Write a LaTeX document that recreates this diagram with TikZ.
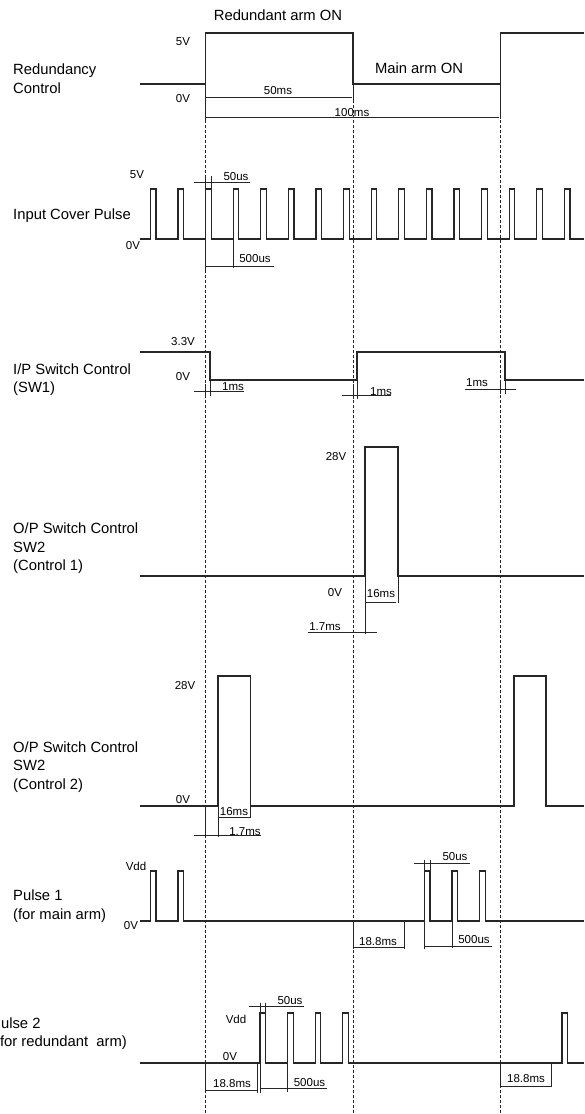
\documentclass[tikz,border=0pt]{standalone}
\usepackage{fontspec}
\setmainfont{Liberation Sans}
\usetikzlibrary{arrows.meta}

\begin{document}
\begin{tikzpicture}[x=1pt, y=-1pt,
    wave/.style={line width=1.2pt, black!85},
    dim/.style={line width=0.8pt, black!85},
    marker/.style={line width=0.8pt, dash pattern=on 2.5pt off 2.5pt, black!85},
    sig/.style={font=\fontsize{14.8}{18.5}\selectfont, align=left, anchor=west, inner sep=0pt},
    val/.style={font=\fontsize{11.5}{13}\selectfont, inner sep=0pt}]
    \useasboundingbox (0,0) rectangle (584,1114); % page size
    % time markers
    \foreach \t in {205.4,353,500.4}
        \draw[marker] (\t,100) -- (\t,1114);

    % Redundancy control
    \node (armR) at (278,15) {\fontsize{14.8}{17}\selectfont Redundant arm ON};
    \node[sig] (redun) at (13,78.5) {Redundancy\\Control};
    \node (armM) at (419,68) {\fontsize{14.8}{17}\selectfont Main arm ON};
    \node[val] (rc5) at (183,42) {5V};
    \node[val] (rc0) at (183,99) {0V};
    \draw[wave] (140,84) -- (205.4,84) -- (205.4,33) -- (353,33) -- (353,84) -- (500.4,84) -- (500.4,33) -- (584,33);
    \draw[dim] (205.4,84) -- (205.4,120) (353,84) -- (353,100) (500.4,84) -- (500.4,119);
    \draw[dim] (206,97) -- (352,97) (206,117) -- (499,117);
    \node[val] (t50) at (278,91) {50ms};
    \node[val] (t100) at (352,113) {100ms};

    % Input cover pulse
    \node[sig] (cover) at (13,216) {Input Cover Pulse};
    \node[val] (ic5) at (137,175) {5V};
    \node[val] (ic0) at (133,246) {0V};
    \draw[wave] (140,239) \foreach \k in {0,...,15}{
        -- ({150.3+27.6*\k},239) -- ++(0,-50) -- ++(5.6,0) -- ++(0,50)} -- (584,239);
    \draw[dim] (205.4,176) -- (205.4,270) (211,176) -- (211,189) (194,182) -- (250,182);
    \draw[dim] (233.1,239) -- (233.1,268) (205.4,266) -- (274,266);
    \node[val] (ic50) at (236,177) {50us};
    \node[val] (ic500) at (255,259) {500us};

    % I/P switch control
    \node[sig] (sw1) at (13,379.5) {I/P Switch Control\\(SW1)};
    \node[val] (s33) at (183,342) {3.3V};
    \node[val] (s0) at (183,377) {0V};
    \draw[wave] (140,352) -- (210,352) -- (210,380) -- (357,380) -- (357,352) -- (505,352) -- (505,380) -- (584,380);
    \draw[dim] (205.4,384) -- (205.4,396) (210,380) -- (210,396) (194,391) -- (244,391);
    \draw[dim] (353,384) -- (353,399) (357,380) -- (357,399) (342,395) -- (391,395);
    \draw[dim] (500.4,382) -- (500.4,394) (505,380) -- (505,394) (465,389) -- (516,389);
    \node[val] (d1a) at (233,387) {1ms};
    \node[val] (d1b) at (381,392) {1ms};
    \node[val] (d1c) at (477,383) {1ms};

    % O/P switch control 1
    \node[sig] (ctl1) at (13,548.5) {O/P Switch Control\\SW2\\(Control 1)};
    \node[val] (c1h) at (336,457) {28V};
    \node[val] (c1l) at (335,593) {0V};
    \draw[wave] (140,576) -- (365,576) -- (365,447) -- (398,447) -- (398,576) -- (584,576);
    \draw[dim] (365,576) -- (365,634) (398,576) -- (398,603);
    \draw[dim] (365,602) -- (396,602) (308,632) -- (377,632);
    \node[val] (c1w) at (381,594) {16ms};
    \node[val] (c1d) at (325,627) {1.7ms};

    % O/P switch control 2
    \node[sig] (ctl2) at (13,767) {O/P Switch Control\\SW2\\(Control 2)};
    \node[val] (c2h) at (185,686) {28V};
    \node[val] (c2l) at (183,800) {0V};
    \draw[wave] (140,806) -- (218,806) -- (218,676) -- (250.6,676) -- (250.6,806) -- (514,806) -- (514,676) -- (546,676) -- (546,806) -- (584,806);
    \draw[dim] (205.4,806) -- (205.4,838) (218,806) -- (218,837) (250.6,806) -- (250.6,818);
    \draw[dim] (218,817) -- (250,817) (194,835) -- (261,835);
    \node[val] (c2w) at (234,812) {16ms};
    \node[val] (c2d) at (245,832) {1.7ms};

    % Pulse 1
    \node[sig] (p1) at (13,906) {Pulse 1\\(for main arm)};
    \node[val] (p1h) at (136,866) {Vdd};
    \node[val] (p1l) at (131,926) {0V};
    \draw[wave] (140,921) \foreach \x in {150.3,177.9,424.3,451.9,479.5}{
        -- (\x,921) -- ++(0,-50) -- ++(5.6,0) -- ++(0,50)} -- (584,921);
    \draw[dim] (353,921) -- (353,949) (404.5,921) -- (404.5,949) (353,947) -- (404.5,947);
    \draw[dim] (424.3,860) -- (424.3,949) (429.9,860) -- (429.9,871) (414,863) -- (470,863);
    \draw[dim] (451.9,921) -- (451.9,948) (424.3,946) -- (492,946);
    \node[val] (p1a) at (378,942) {18.8ms};
    \node[val] (p1b) at (474,940) {500us};
    \node[val] (p1c) at (455,857) {50us};

    % Pulse 2
    \node[sig] (p2a) at (-9,1023) {Pulse 2};
    \node[sig] (p2b) at (-5,1043) {(for redundant\ \ arm)};
    \node[val] (p2h) at (236,1019) {Vdd};
    \node[val] (p2l) at (230,1057) {0V};
    \draw[wave] (140,1063) \foreach \x in {259.9,287.5,315.1,342.7,561.9}{
        -- (\x,1063) -- ++(0,-50) -- ++(5.6,0) -- ++(0,50)} -- (584,1063);
    \draw[dim] (205.4,1063) -- (205.4,1090) (257.3,1063) -- (257.3,1093) (205.4,1090) -- (257.3,1090);
    \draw[dim] (259.9,1003) -- (259.9,1093) (265.5,1003) -- (265.5,1013) (249,1006) -- (304,1006);
    \draw[dim] (287.5,1063) -- (287.5,1092) (261,1088) -- (327,1088);
    \draw[dim] (500.4,1063) -- (500.4,1086) (551,1063) -- (551,1087) (500.4,1086) -- (551,1086);
    \node[val] (p2a1) at (232,1084) {18.8ms};
    \node[val] (p2b1) at (309.5,1083) {500us};
    \node[val] (p2c1) at (290,1001) {50us};
    \node[val] (p2a2) at (526,1079) {18.8ms};
\end{tikzpicture}
\end{document}
